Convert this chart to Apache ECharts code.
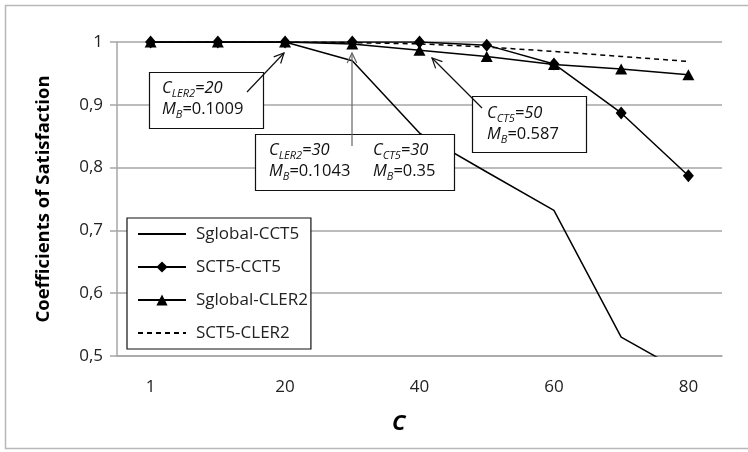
<!DOCTYPE html>
<html>
<head>
<meta charset="utf-8">
<script src="https://cdn.jsdelivr.net/npm/echarts@6/dist/echarts.min.js"></script>
<style>
html,body{margin:0;padding:0;background:#fff;}
#chart{width:748px;height:452px;}
</style>
</head>
<body>
<div id="chart"></div>
<script>
// ---- data ----
const categories = ['1', '10', '20', '30', '40', '50', '60', '70', '80'];
const sGlobalCCT5  = [1, 1, 1, 0.970, 0.855, 0.793, 0.732, 0.530, 0.470];
const sCT5CCT5     = [1, 1, 1, 1, 1, 0.995, 0.965, 0.887, 0.787];
const sGlobalCLER2 = [1, 1, 1, 0.997, 0.987, 0.977, 0.964, 0.957, 0.948];
const sCT5CLER2    = [1, 1, 1, 0.999, 0.997, 0.992, 0.985, 0.977, 0.969];
const seriesNames  = ['Sglobal-CCT5', 'SCT5-CCT5', 'Sglobal-CLER2', 'SCT5-CLER2'];
const yMin = 0.5, yMax = 1, yStep = 0.1;
const xAxisTitle = 'C';
const yAxisTitle = 'Coefficients of Satisfaction';

const FONT = 'Open Sans';
const chart = echarts.init(document.getElementById('chart'), null, {renderer: 'canvas'});

const rich = {
  i: {fontFamily: FONT, fontSize: 16.5, fontStyle: 'italic', color: '#111', lineHeight: 21, verticalAlign: 'middle'},
  s: {fontFamily: FONT, fontSize: 11, fontStyle: 'italic', color: '#111', lineHeight: 21, verticalAlign: 'bottom'},
  n: {fontFamily: FONT, fontSize: 16.5, color: '#111', lineHeight: 21, verticalAlign: 'middle'}
};

function arrow(x1, y1, x2, y2, color) {
  const a = Math.atan2(y2 - y1, x2 - x1), L = 11, w = 0.45;
  return [
    {type: 'polyline', z: 120, shape: {points: [[x1, y1], [x2, y2]]}, style: {stroke: color, lineWidth: 1.2, fill: null}},
    {type: 'polyline', z: 120, shape: {points: [
      [x2 - L * Math.cos(a - w), y2 - L * Math.sin(a - w)], [x2, y2],
      [x2 - L * Math.cos(a + w), y2 - L * Math.sin(a + w)]]},
      style: {stroke: color, lineWidth: 1.2, fill: null}}
  ];
}
function box(x, y, w, h) {
  return {type: 'rect', z: 110, shape: {x: x + 0.5, y: y + 0.5, width: w, height: h},
    style: {fill: '#fff', stroke: '#111', lineWidth: 1.2}};
}
function label(x, y, text) {
  return {type: 'text', z: 115, x: x, y: y, style: {text: text, rich: rich, fill: '#111', font: '16px ' + FONT}};
}

const graphics = [
  {type: 'rect', z: -1, silent: true, shape: {x: 5.5, y: 5.5, width: 770, height: 443}, style: {fill: null, stroke: '#b8b8b8', lineWidth: 1.5}},
  box(149, 72, 114, 56),
  label(162, 78, '{i|C}{s|LER2}{i|=20}\n{i|M}{s|B}{n|=0.1009}'),
  box(255, 134, 199, 56),
  label(269, 140, '{i|C}{s|LER2}{i|=30}\n{i|M}{s|B}{n|=0.1043}'),
  label(373, 140, '{i|C}{s|CT5}{i|=30}\n{i|M}{s|B}{n|=0.35}'),
  box(472, 96, 114, 56),
  label(487, 103, '{i|C}{s|CT5}{i|=50}\n{i|M}{s|B}{n|=0.587}'),
  ...arrow(247, 92, 284, 53, '#111'),
  ...arrow(352, 146, 352, 53, '#666'),
  ...arrow(482, 108, 432, 58, '#111'),
  {type: 'text', z: 50, x: 392, y: 413, style: {text: xAxisTitle, font: 'italic bold 22px ' + FONT, fill: '#000'}}
];

const lineStyle = {color: '#000', width: 1.5};
chart.setOption({
  animation: false,
  backgroundColor: '#fff',
  grid: {left: 117, right: 26, top: 42, bottom: 96, containLabel: false},
  legend: {
    orient: 'vertical', left: 127, top: 218, z: 100,
    data: [
      {name: seriesNames[0], itemStyle: {opacity: 0}},
      {name: seriesNames[1]},
      {name: seriesNames[2]},
      {name: seriesNames[3], itemStyle: {opacity: 0}}
    ],
    itemWidth: 48, itemHeight: 14, itemGap: 15,
    padding: [7, 3, 7, 10],
    backgroundColor: '#fff', borderColor: '#111', borderWidth: 1.2,
    textStyle: {fontFamily: FONT, fontSize: 17, color: '#222', lineHeight: 18, padding: [0, 0, 0, 5]}
  },
  xAxis: {
    type: 'category', data: categories, boundaryGap: true,
    axisLine: {show: true, lineStyle: {color: '#a6a6a6', width: 1.5}},
    axisTick: {show: false},
    axisLabel: {interval: 1, margin: 23, fontFamily: FONT, fontSize: 17, color: '#222'},
    splitLine: {show: false}
  },
  yAxis: {
    type: 'value', min: yMin, max: yMax, interval: yStep,
    name: yAxisTitle, nameLocation: 'middle', nameGap: 64,
    nameTextStyle: {fontFamily: FONT, fontSize: 18.5, fontWeight: 'bold', color: '#000'},
    axisLine: {show: true, lineStyle: {color: '#a6a6a6', width: 1.5}},
    axisTick: {show: true, length: 7, lineStyle: {color: '#a6a6a6', width: 1.5}},
    axisLabel: {margin: 14, fontFamily: FONT, fontSize: 17, color: '#222',
      formatter: v => (Math.abs(v - 1) < 1e-9 ? '1' : v.toFixed(1).replace('.', ','))},
    splitLine: {show: true, lineStyle: {color: '#a6a6a6', width: 1.5}}
  },
  series: [
    {name: seriesNames[0], type: 'line', data: sGlobalCCT5, symbol: 'none', clip: true,
      lineStyle: lineStyle, itemStyle: {color: '#000'}, z: 2},
    {name: seriesNames[1], type: 'line', data: sCT5CCT5, symbol: 'diamond', symbolSize: [11, 13], showAllSymbol: true,
      lineStyle: lineStyle, itemStyle: {color: '#000'}, z: 3},
    {name: seriesNames[2], type: 'line', data: sGlobalCLER2, symbol: 'triangle', symbolSize: [12, 11], showAllSymbol: true,
      lineStyle: lineStyle, itemStyle: {color: '#000'}, z: 4},
    {name: seriesNames[3], type: 'line', data: sCT5CLER2, symbol: 'none',
      lineStyle: {color: '#000', width: 1.5, type: [5, 4]}, itemStyle: {color: '#000'}, z: 5}
  ],
  graphic: graphics
});
</script>
</body>
</html>
